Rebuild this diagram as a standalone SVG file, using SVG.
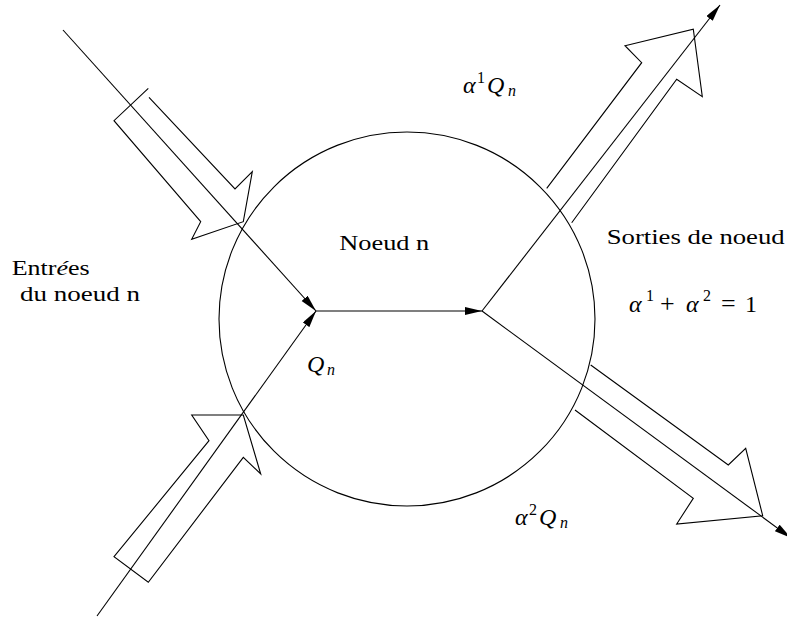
<svg xmlns="http://www.w3.org/2000/svg" width="787" height="617" viewBox="0 0 787 617">
<style>
.ln{fill:none;stroke:#000;stroke-width:1.1}
text{font-family:'Liberation Serif','DejaVu Serif',serif;font-size:22px;fill:#000}
.i{font-style:italic}
.m{font-size:24px}
.s{font-size:16px}
.op{font-size:26px}
</style>
<defs>
<marker id="ah" markerUnits="userSpaceOnUse" markerWidth="18" markerHeight="9" refX="17" refY="4" orient="auto">
<path d="M0,0 L17,4 L0,8 Z" fill="#000"/>
</marker>
</defs>
<rect width="787" height="617" fill="#fff"/>
<g id="node-n">
<ellipse cx="407" cy="319" rx="188" ry="187" class="ln"/>
<text x="339.3" y="250" textLength="90" lengthAdjust="spacingAndGlyphs">Noeud n</text>
</g>
<g id="connectors">
<path class="ln" d="M63,30 L316,311" marker-end="url(#ah)"/>
<path class="ln" d="M97,616 L316,311" marker-end="url(#ah)"/>
<path class="ln" d="M316,311 L482,311" marker-end="url(#ah)"/>
<path class="ln" d="M482,311 L720,5" marker-end="url(#ah)"/>
<path class="ln" d="M482,311 L791,538" marker-end="url(#ah)"/>
</g>
<g id="flow-in-1">
<polyline class="ln" points="148.3,88.3 114,120.7 200.7,221.7 191.7,239.3 243.3,221.7 252.3,171.7 235,189 149,97.3"/>
</g>
<g id="flow-in-2">
<polygon class="ln" points="191.7,415 243.3,415 260.7,474 243.3,457.3 148.3,582.3 114,556.7 209,440.7"/>
</g>
<g id="flow-out-1">
<polyline class="ln" points="546.7,188.3 641.7,62.7 625,45.7 693.3,29.3 702.3,96.7 676.7,79.3 571.7,222.7"/>
</g>
<g id="flow-out-2">
<polyline class="ln" points="590.7,365 728.3,465 745.7,448.3 762.7,515.7 676.7,524 693.3,498.3 575,410"/>
</g>
<g id="label-entrees">
<text x="11.7" y="275" textLength="78" lengthAdjust="spacingAndGlyphs">Entr<tspan class="i">é</tspan>es</text>
<text x="20" y="300.7" textLength="120" lengthAdjust="spacingAndGlyphs">du noeud n</text>
</g>
<g id="label-qn">
<text class="i m" x="307" y="372">Q</text>
<text class="i s" x="327" y="375">n</text>
</g>
<g id="label-a1qn">
<text class="i m" x="463" y="93">α</text>
<text class="s" x="477" y="83">1</text>
<text class="i m" x="487" y="93">Q</text>
<text class="i s" x="508" y="96">n</text>
</g>
<g id="label-sorties">
<text x="606.7" y="244" textLength="178" lengthAdjust="spacingAndGlyphs">Sorties de noeud</text>
</g>
<g id="label-sum">
<text class="i m" x="629" y="312">α</text>
<text class="s" x="646" y="301">1</text>
<text class="op" x="660" y="312">+</text>
<text class="i m" x="686" y="312">α</text>
<text class="s" x="703" y="301">2</text>
<text class="op" x="721" y="312">=</text>
<text class="m" x="745" y="312">1</text>
</g>
<g id="label-a2qn">
<text class="i m" x="515" y="525">α</text>
<text class="s" x="529" y="515">2</text>
<text class="i m" x="539" y="525">Q</text>
<text class="i s" x="560" y="528">n</text>
</g>
</svg>
